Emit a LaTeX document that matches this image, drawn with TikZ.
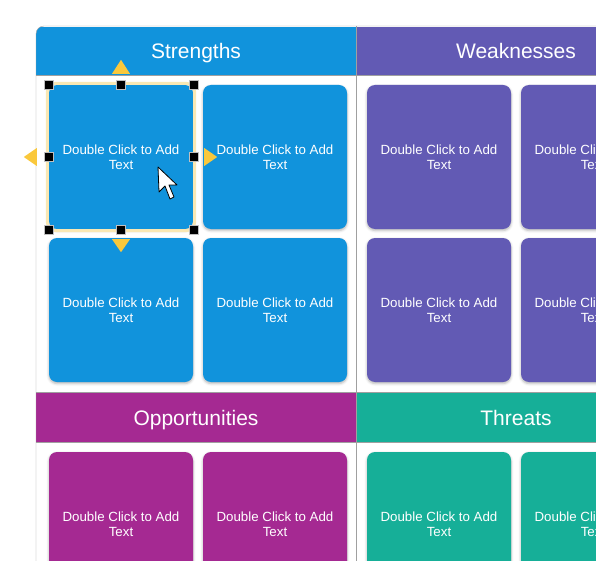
\documentclass[tikz,border=0pt]{standalone}
\usepackage{fontspec}
\setmainfont{Liberation Sans}
\usepackage{tikz}
\usetikzlibrary{calc, shadows.blur}
\definecolor{strblue}   {RGB}{17, 147, 220}
\definecolor{weakviolet}{RGB}{98,  90, 180}
\definecolor{opppurple} {RGB}{165, 41, 146}
\definecolor{thrgreen}  {RGB}{22, 175, 152}
\definecolor{gripyellow}{RGB}{250, 200, 60}
\definecolor{glowcream} {RGB}{250, 232, 180}
\definecolor{framegray} {RGB}{160, 160, 160}
\begin{document}
\begin{tikzpicture}[x=1pt,y=-1pt,
	card/.style={rounded corners=8pt, minimum width=144pt, minimum height=144pt,
		inner sep=0pt, text=white, align=center, font=\fontsize{13.3}{15}\selectfont,
		blur shadow={shadow xshift=0pt, shadow yshift=-1.5pt, shadow blur radius=2.5pt, shadow opacity=30}},
	head/.style={minimum width=320pt, minimum height=49pt, inner sep=0pt,
		text height=19pt, text depth=4pt,
		text=white, font=\fontsize{21}{24}\selectfont},
	handle/.style={fill=black, draw=gray!50, minimum size=9pt, inner sep=0pt},
	grip/.style={fill=gripyellow}
]
	\useasboundingbox (0,0) rectangle (596,561);
	\clip (0,0) rectangle (596,561);
	% header bands
	\begin{scope}
		\clip[rounded corners=8pt] (36,26) rectangle (720,720);
		\node[head, fill=strblue]    (hstr)  at (196,51.5)  {Strengths};
		\node[head, fill=weakviolet] (hweak) at (516,51.5)  {Weaknesses};
		\node[head, fill=opppurple]  (hopp)  at (196,417.5) {Opportunities};
		\node[head, fill=thrgreen]   (hthr)  at (516,417.5) {Threats};
	\end{scope}
	% frame and grid lines
	\draw[framegray, rounded corners=8pt] (36,720) |- (720,26);
	\draw[framegray] (356,26) -- (356,720);
	\draw[framegray] (36,75.5) -- (720,75.5);
	\draw[framegray] (36,392.5) -- (720,392.5);
	\draw[framegray] (36,442.5) -- (720,442.5);
	% cards
	\foreach \x [count=\i] in {121,275}
		\foreach \y [count=\j] in {157,310} {
			\node[card, fill=strblue]    (s\j\i) at (\x,\y) {Double Click to Add\\Text};
			\node[card, fill=weakviolet] (w\j\i) at (\x+318,\y) {Double Click to Add\\Text};
		}
	\foreach \x [count=\i] in {121,275} {
		\node[card, fill=opppurple] (o1\i) at (\x,524) {Double Click to Add\\Text};
		\node[card, fill=thrgreen]  (t1\i) at (\x+318,524) {Double Click to Add\\Text};
	}
	% selection of the first card
	\draw[glowcream, line width=3pt, rounded corners=9pt]
		($(s11.north west)+(-1.5,-1.5)$) rectangle ($(s11.south east)+(1.5,1.5)$);
	\foreach \a in {north west, north, north east, west, east, south west, south, south east}
		\node[handle] at (s11.\a) {};
	\fill[grip] ($(s11.north)+(0,-25)$) -- ($(s11.north)+(9,-11)$) -- ($(s11.north)+(-9,-11)$) -- cycle;
	\fill[grip] ($(s11.south)+(0,23)$) -- ($(s11.south)+(9,10)$) -- ($(s11.south)+(-9,10)$) -- cycle;
	\fill[grip] ($(s11.west)+(-25,0)$) -- ($(s11.west)+(-12,9)$) -- ($(s11.west)+(-12,-9)$) -- cycle;
	\fill[grip] ($(s11.east)+(24,0)$) -- ($(s11.east)+(11,9)$) -- ($(s11.east)+(11,-9)$) -- cycle;
	% mouse pointer
	\draw[fill=white, line width=0.8pt, line join=round]
		(158,167) -- (159,192) -- (165,186) -- (170,199) -- (174,197) -- (169,185) -- (177,185) -- cycle;
\end{tikzpicture}
\end{document}
